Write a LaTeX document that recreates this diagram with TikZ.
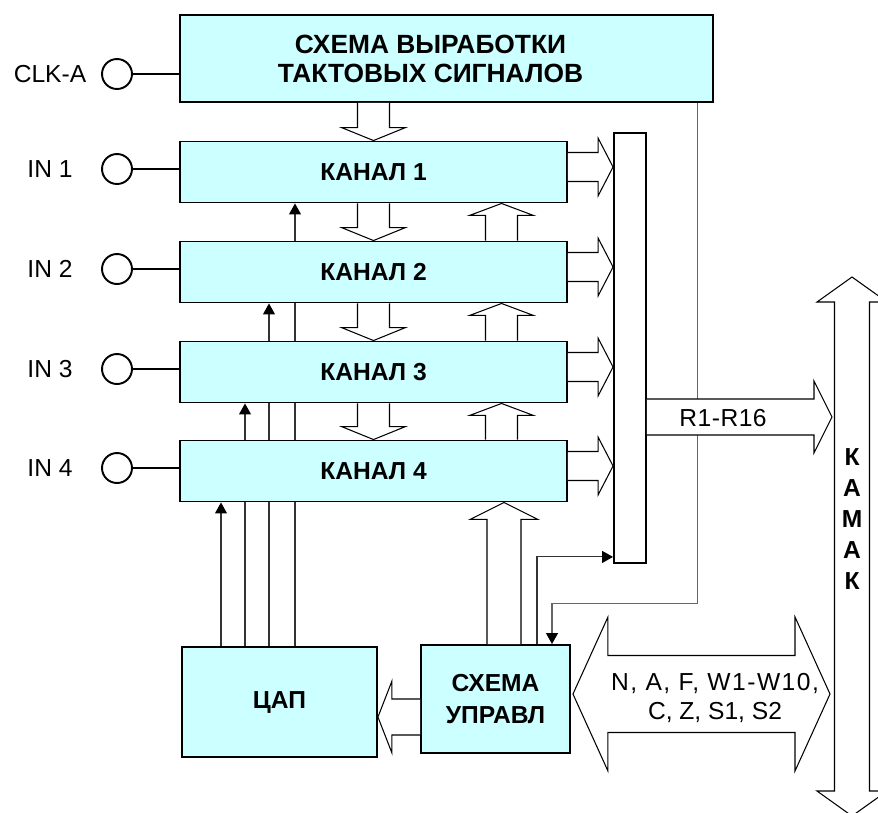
\documentclass[tikz,border=0pt]{standalone}
\usepackage{fontspec}
\setmainfont{Liberation Sans}
\usetikzlibrary{calc,arrows.meta}
\definecolor{boxcyan}{HTML}{CCFFFF}
\pgfdeclarelayer{bg}
\pgfsetlayers{bg,main}

\tikzset{
  block/.style={draw, line width=1.1pt, fill=boxcyan, align=center, inner sep=0pt,
    font=\fontsize{14}{17}\selectfont\bfseries},
  bus/.style={draw, fill=white, line width=0.6pt},
  wire/.style={line width=0.6pt, black!80},
  sig/.style={-{Triangle[length=0.22cm,width=0.24cm,color=black]}},
  pin/.style={circle, draw, line width=1.1pt, fill=white, minimum size=0.6cm, inner sep=0pt},
  lbl/.style={font=\fontsize{14}{17}\selectfont},
}

% wide bus arrow: tail, tip, half shaft offset, head length
\newcommand{\busarrow}[4]{%
  \path ($(#2)!#4!(#1)$) coordinate (hb);
  \draw[bus] ($(#1)+#3$) -- ($(hb)+#3$) -- ($(hb)+2*#3$) -- (#2)
    -- ($(hb)-2*#3$) -- ($(hb)-#3$) -- ($(#1)-#3$);
}
% two-way bus arrow
\newcommand{\busboth}[4]{%
  \path ($(#1)!#4!(#2)$) coordinate (ha) ($(#2)!#4!(#1)$) coordinate (hb);
  \draw[bus] (#1) -- ($(ha)+2*#3$) -- ($(ha)+#3$) -- ($(hb)+#3$) -- ($(hb)+2*#3$) -- (#2)
    -- ($(hb)-2*#3$) -- ($(hb)-#3$) -- ($(ha)-#3$) -- ($(ha)-2*#3$) -- cycle;
}

\begin{document}
\begin{tikzpicture}[x=0.02cm, y=-0.02cm]
  \clip (0,0) rectangle (878,812);

  % clock generator
  \node[block, minimum width=10.66cm, minimum height=1.74cm] (gen) at (446.5,58.5) {};
  \node[font=\fontsize{15}{16.5}\selectfont\bfseries, align=center] (gentxt)
    at ($(gen)+(-16,0)$) {СХЕМА ВЫРАБОТКИ\\ТАКТОВЫХ СИГНАЛОВ};
  \node[pin] (clkpin) at (117,74) {};
  \node[lbl] (clklbl) at (50,74) {CLK-A};
  \draw[line width=1pt] (clkpin) -- (clkpin -| gen.west);

  % channels with inputs
  \foreach \i/\yy in {1/172,2/272,3/372,4/471} {
    \node[block, minimum width=7.74cm, minimum height=1.22cm] (ch\i) at (373.5,\yy) {КАНАЛ \i};
    \node[pin] (pin\i) at (117,\yy-3) {};
    \node[lbl] (lbl\i) at (50,\yy-3) {IN \i};
    \draw[line width=1pt] (pin\i) -- (pin\i -| ch\i.west);
  }

  % register, DAC and control
  \node[draw, fill=white, line width=1.1pt, minimum width=0.64cm, minimum height=8.6cm,
    inner sep=0pt] (reg) at (630,348) {};
  \node[block, minimum width=3.9cm, minimum height=2.2cm] (dac) at (279.5,702) {ЦАП};
  \node[block, minimum width=2.98cm, minimum height=2.16cm,
    font=\fontsize{14}{18}\selectfont\bfseries] (ctrl) at (495.5,699) {СХЕМА\\УПРАВЛ};

  % thin wires behind the blocks
  \begin{pgfonlayer}{bg}
    \foreach \dx/\i in {-58.5/4,-34.5/3,-10.5/2,15.5/1}
      \draw[wire,sig] ($(dac.north)+(\dx,0)$) coordinate (w\i) -- (w\i |- ch\i.south);
    \draw[wire, black!60, sig] ($(gen.south east)+(-16,0)$) |- ($(ctrl.north)+(56.5,-41)$)
      -- ($(ctrl.north)+(56.5,0)$);
    \draw[wire,sig] ($(ctrl.north)+(41.5,0)$) |- ($(reg.south west)+(0,-7)$);
  \end{pgfonlayer}

  % buses between blocks
  \busarrow{ch1.north |- gen.south}{ch1.north}{(16,0)}{0.26cm}
  \foreach \i/\j in {1/2,2/3,3/4} {
    \busarrow{ch\i.south}{ch\j.north}{(16,0)}{0.26cm}
    \coordinate (u\j) at ($(ch\j.north)+(128,0)$);
    \busarrow{u\j}{u\j |- ch\i.south}{(16,0)}{0.24cm}
  }
  \foreach \i in {1,...,4} {
    \coordinate (o\i) at ($(ch\i.east)+(0,-5)$);
    \busarrow{o\i}{o\i -| reg.west}{(0,14.5)}{0.3cm}
  }
  \coordinate (cu) at ($(ctrl.north)+(8.5,0)$);
  \busarrow{cu}{cu |- ch4.south}{(17,0)}{0.34cm}
  \coordinate (cl) at ($(ctrl.west)+(0,18)$);
  \busarrow{cl}{cl -| dac.east}{(0,18)}{0.28cm}

  % output to the crate
  \coordinate (rr) at (reg.east |- 0,417);
  \coordinate (rtip) at (832,417);
  \busarrow{rr}{rtip}{(0,18)}{0.36cm}
  \node[lbl] (rlbl) at (723,418) {\addfontfeatures{LetterSpace=2}R1-R16};

  \coordinate (nafl) at ($(ctrl.east)+(2,-5)$);
  \coordinate (nafr) at (830,694);
  \busboth{nafl}{nafr}{(0,38.5)}{0.7cm}
  \node[lbl, align=center] (naflbl) at (715,698)
    {\addfontfeatures{LetterSpace=6}N, A, F, W1-W10,\\C, Z, S1, S2};

  \coordinate (camtop) at (852,277);
  \coordinate (cambot) at (852,816);
  \busboth{camtop}{cambot}{(17.5,0)}{0.5cm}
  \node[font=\fontsize{14}{17.6}\selectfont\bfseries, align=center] (camlbl) at (852,519)
    {К\\А\\М\\А\\К};
\end{tikzpicture}
\end{document}
